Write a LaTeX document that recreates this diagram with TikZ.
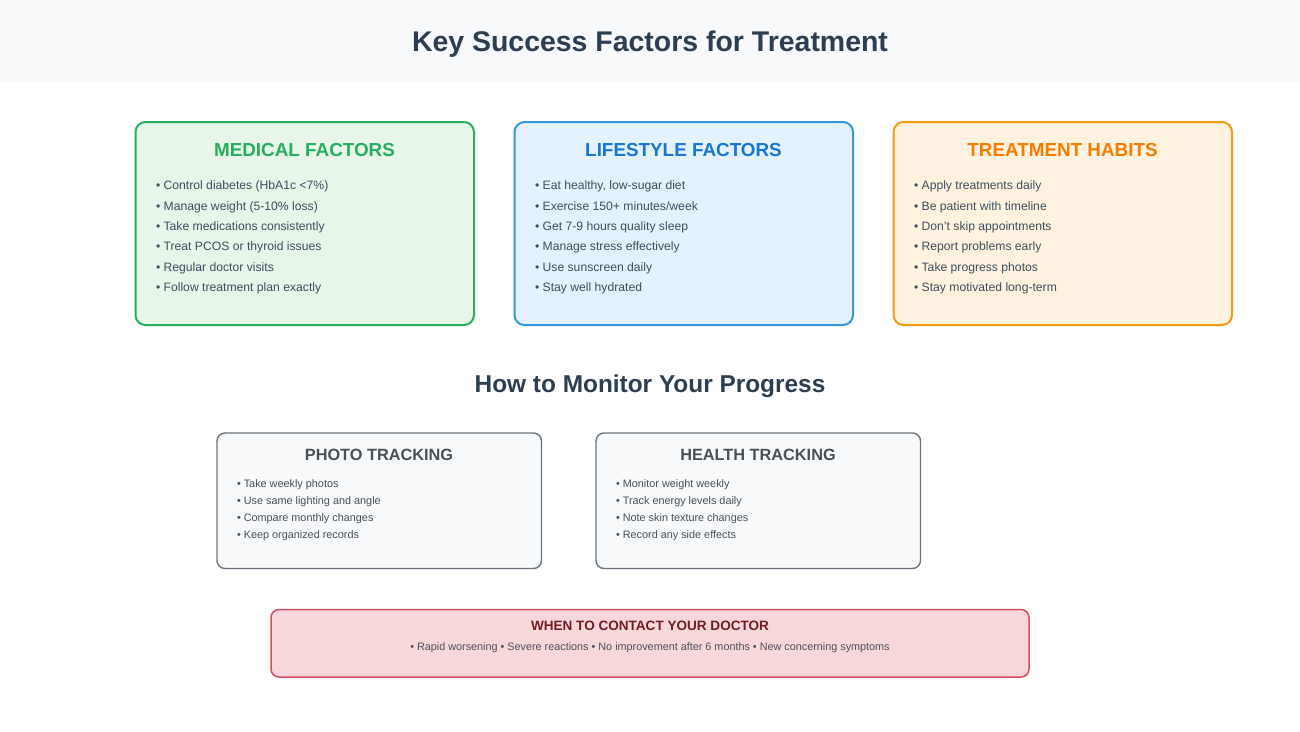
\documentclass[tikz,border=0pt]{standalone}
\usepackage{fontspec}
\setmainfont{Liberation Sans}
\definecolor{band}{HTML}{F8F9FA}
\definecolor{ink}{HTML}{2C3E50}
\definecolor{body}{HTML}{3D4F60}
\definecolor{grayink}{HTML}{495057}
\definecolor{medfill}{HTML}{E8F5E9}
\definecolor{medline}{HTML}{27AE60}
\definecolor{lifefill}{HTML}{E3F2FD}
\definecolor{lifeline}{HTML}{3498DB}
\definecolor{lifehead}{HTML}{1976D2}
\definecolor{habfill}{HTML}{FFF3E0}
\definecolor{habline}{HTML}{F39C12}
\definecolor{habhead}{HTML}{F57C00}
\definecolor{trkfill}{HTML}{F8F9FA}
\definecolor{trkline}{HTML}{6C757D}
\definecolor{docfill}{HTML}{F8D7DA}
\definecolor{docline}{HTML}{CF4F5F}
\definecolor{dochead}{HTML}{721C24}
\tikzset{
 x=1pt,y=-1pt,
 card/.style={draw,line width=2pt,rounded corners=10pt},
 tcard/.style={draw=trkline,fill=trkfill,line width=1.4pt,rounded corners=8pt},
 dcard/.style={draw=docline,fill=docfill,line width=1.5pt,rounded corners=8pt},
 lbl/.style={inner sep=0pt,outer sep=0pt,anchor=base},
 item/.style={inner sep=0pt,outer sep=0pt,anchor=base west,text=body,font=\fontsize{12.17}{15}\selectfont},
 sitem/.style={inner sep=0pt,outer sep=0pt,anchor=base west,text=grayink,font=\fontsize{10.85}{13}\selectfont},
 head/.style={lbl,font=\fontsize{18.85}{24}\selectfont\bfseries},
 shead/.style={lbl,text=grayink,font=\fontsize{16.3}{20}\selectfont\bfseries},
}
\begin{document}
\begin{tikzpicture}
\useasboundingbox (0,0) rectangle (1300,731);
\fill[white] (0,0) rectangle (1300,731);
\fill[band] (0,0) rectangle (1300,81);
\node[lbl,text=ink,font=\fontsize{28.45}{36}\selectfont\bfseries] (title) at (650,51) {Key Success Factors for Treatment};
% cards
\draw[card,draw=medline,fill=medfill] (135.5,122) rectangle (474,325);
\draw[card,draw=lifeline,fill=lifefill] (514.5,122) rectangle (853,325);
\draw[card,draw=habline,fill=habfill] (893.5,122) rectangle (1232,325);
\node[head,text=medline] (h1) at (304.5,156) {MEDICAL FACTORS};
\node[head,text=lifehead] (h2) at (683.5,156) {LIFESTYLE FACTORS};
\node[head,text=habhead] (h3) at (1062.5,156) {TREATMENT HABITS};
\node[item] (a1) at (156,189.7) {• Control diabetes (HbA1c <7\%)};
\node[item] (a2) at (156,210.1) {• Manage weight (5-10\% loss)};
\node[item] (a3) at (156,230.5) {• Take medications consistently};
\node[item] (a4) at (156,250.8) {• Treat PCOS or thyroid issues};
\node[item] (a5) at (156,271.2) {• Regular doctor visits};
\node[item] (a6) at (156,291.5) {• Follow treatment plan exactly};
\node[item] (b1) at (535,189.7) {• Eat healthy, low-sugar diet};
\node[item] (b2) at (535,210.1) {• Exercise 150+ minutes/week};
\node[item] (b3) at (535,230.5) {• Get 7-9 hours quality sleep};
\node[item] (b4) at (535,250.8) {• Manage stress effectively};
\node[item] (b5) at (535,271.2) {• Use sunscreen daily};
\node[item] (b6) at (535,291.5) {• Stay well hydrated};
\node[item] (c1) at (914,189.7) {• Apply treatments daily};
\node[item] (c2) at (914,210.1) {• Be patient with timeline};
\node[item] (c3) at (914,230.5) {• Don{\char"27}t skip appointments};
\node[item] (c4) at (914,250.8) {• Report problems early};
\node[item] (c5) at (914,271.2) {• Take progress photos};
\node[item] (c6) at (914,291.5) {• Stay motivated long-term};
\node[lbl,text=ink,font=\fontsize{24.4}{30}\selectfont\bfseries] (mon) at (650,392.5) {How to Monitor Your Progress};
% tracking
\draw[tcard] (217,433) rectangle (541.5,568.5);
\draw[tcard] (596,433) rectangle (920.5,568.5);
\node[shead] (p) at (379,460) {PHOTO TRACKING};
\node[shead] (q) at (758,460) {HEALTH TRACKING};
\node[sitem] (p1) at (237,487) {• Take weekly photos};
\node[sitem] (p2) at (237,504) {• Use same lighting and angle};
\node[sitem] (p3) at (237,521) {• Compare monthly changes};
\node[sitem] (p4) at (237,538) {• Keep organized records};
\node[sitem] (q1) at (616,487) {• Monitor weight weekly};
\node[sitem] (q2) at (616,504) {• Track energy levels daily};
\node[sitem] (q3) at (616,521) {• Note skin texture changes};
\node[sitem] (q4) at (616,538) {• Record any side effects};
% doctor
\draw[dcard] (271,609.5) rectangle (1029,677);
\node[lbl,text=dochead,font=\fontsize{13.55}{17}\selectfont\bfseries] (dh) at (650,630) {WHEN TO CONTACT YOUR DOCTOR};
\node[lbl,text=grayink,font=\fontsize{10.82}{13}\selectfont] (dt) at (650,650) {• Rapid worsening • Severe reactions • No improvement after 6 months • New concerning symptoms};
\end{tikzpicture}
\end{document}
